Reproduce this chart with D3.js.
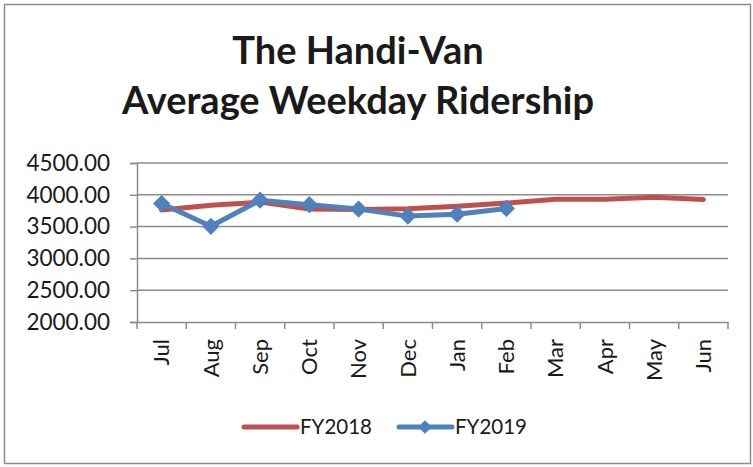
<!DOCTYPE html>
<html>
<head>
<meta charset="utf-8">
<script src="https://cdn.jsdelivr.net/npm/d3@7"></script>
<style>
  body { margin: 0; background: #fff; }
  text { font-family: Lato, "Open Sans", sans-serif; fill: #1a1a1a; }
</style>
</head>
<body>
<div id="chart"></div>
<script>
// data
var months = ["Jul", "Aug", "Sep", "Oct", "Nov", "Dec", "Jan", "Feb", "Mar", "Apr", "May", "Jun"];
var fy2018 = [3760, 3835, 3885, 3775, 3768, 3780, 3820, 3870, 3930, 3930, 3960, 3925];
var fy2019 = [3863, 3505, 3915, 3845, 3775, 3665, 3695, 3785];
var yTicks = [2000, 2500, 3000, 3500, 4000, 4500];

var W = 753, H = 467;
var margin = {top: 163, right: 25, bottom: 145, left: 137};
var width = 728 - margin.left, height = 322 - margin.top;

var svg = d3.select("#chart").append("svg")
    .attr("width", W)
    .attr("height", H);

// outer frame
svg.append("rect")
    .attr("x", 4.5).attr("y", 4.5)
    .attr("width", W - 7).attr("height", H - 8)
    .attr("fill", "none")
    .attr("stroke", "#8c8c8c")
    .attr("stroke-width", 1.5);

// title
var title = svg.append("text")
    .attr("text-anchor", "middle")
    .attr("font-size", 38)
    .attr("font-weight", "bold");
title.append("tspan").attr("x", 358).attr("y", 64).text("The Handi-Van");
title.append("tspan").attr("x", 358).attr("y", 114).text("Average Weekday Ridership");

var g = svg.append("g")
    .attr("transform", "translate(" + margin.left + "," + margin.top + ")");

var x = d3.scaleBand()
    .domain(months)
    .range([0, width]);

var y = d3.scaleLinear()
    .domain([2000, 4500])
    .range([height, 0]);

// gridlines
g.selectAll(".grid")
    .data(yTicks.slice(1))
    .enter().append("line")
    .attr("class", "grid")
    .attr("x1", 0).attr("x2", width)
    .attr("y1", function(d) { return y(d); })
    .attr("y2", function(d) { return y(d); })
    .attr("stroke", "#8c8c8c")
    .attr("stroke-width", 1.5);

// y axis
var yAxis = g.append("g")
    .call(d3.axisLeft(y).tickValues(yTicks).tickSize(7).tickPadding(20)
        .tickFormat(d3.format(".2f")));
yAxis.select(".domain").attr("stroke", "#8c8c8c").attr("stroke-width", 1.5);
yAxis.selectAll(".tick line").attr("stroke", "#8c8c8c").attr("stroke-width", 1.5);
yAxis.selectAll(".tick text").attr("font-size", 22.5).attr("fill", "#1a1a1a")
    .attr("font-family", "Lato, 'Open Sans', sans-serif");

// x axis
var xAxis = g.append("g")
    .attr("transform", "translate(0," + height + ")")
    .call(d3.axisBottom(x).tickSize(0).tickPadding(0));
xAxis.select(".domain").attr("stroke", "#8c8c8c").attr("stroke-width", 1.5);
xAxis.selectAll(".tick text")
    .attr("font-size", 22)
    .attr("fill", "#1a1a1a")
    .attr("font-family", "Lato, 'Open Sans', sans-serif")
    .attr("transform", "rotate(-90)")
    .attr("text-anchor", "end")
    .attr("dy", "0.35em")
    .attr("x", -17)
    .attr("y", 0);
// category boundary ticks
g.selectAll(".xtick")
    .data(months.concat(["end"]))
    .enter().append("line")
    .attr("x1", function(d, i) { return i * x.bandwidth(); })
    .attr("x2", function(d, i) { return i * x.bandwidth(); })
    .attr("y1", height).attr("y2", height + 7)
    .attr("stroke", "#8c8c8c")
    .attr("stroke-width", 1.5);

var line = d3.line()
    .x(function(d, i) { return x(months[i]) + x.bandwidth() / 2; })
    .y(function(d) { return y(d); });

g.append("path")
    .datum(fy2018)
    .attr("d", line)
    .attr("fill", "none")
    .attr("stroke", "#C0504D")
    .attr("stroke-width", 5)
    .attr("stroke-linecap", "round")
    .attr("stroke-linejoin", "round");

g.append("path")
    .datum(fy2019)
    .attr("d", line)
    .attr("fill", "none")
    .attr("stroke", "#4F81BD")
    .attr("stroke-width", 5)
    .attr("stroke-linejoin", "round");

var diamond = d3.symbol().type(d3.symbolDiamond2).size(190);
g.selectAll(".pt")
    .data(fy2019)
    .enter().append("path")
    .attr("class", "pt")
    .attr("d", diamond)
    .attr("transform", function(d, i) {
        return "translate(" + (x(months[i]) + x.bandwidth() / 2) + "," + y(d) + ")";
    })
    .attr("fill", "#4F81BD");

// legend
var legend = svg.append("g");
legend.append("line")
    .attr("x1", 244).attr("x2", 297).attr("y1", 427).attr("y2", 427)
    .attr("stroke", "#C0504D").attr("stroke-width", 5).attr("stroke-linecap", "round");
legend.append("text").attr("x", 300).attr("y", 434).attr("font-size", 20.5).text("FY2018");
legend.append("line")
    .attr("x1", 399).attr("x2", 452).attr("y1", 427).attr("y2", 427)
    .attr("stroke", "#4F81BD").attr("stroke-width", 5).attr("stroke-linecap", "round");
legend.append("path")
    .attr("d", d3.symbol().type(d3.symbolDiamond2).size(120))
    .attr("transform", "translate(425,427)")
    .attr("fill", "#4F81BD");
legend.append("text").attr("x", 455).attr("y", 434).attr("font-size", 20.5).text("FY2019");
</script>
</body>
</html>
